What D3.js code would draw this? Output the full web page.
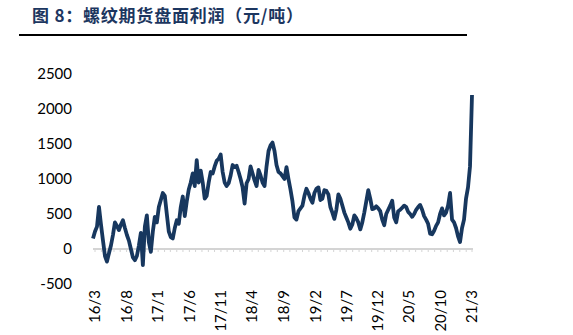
<!DOCTYPE html>
<html><head><meta charset="utf-8">
<script src="https://cdn.jsdelivr.net/npm/d3@7"></script>
<style>body{margin:0;background:#fff}svg{display:block}</style>
</head><body>
<svg id="c" width="573" height="335"></svg>
<script>
const title = "图 8：螺纹期货盘面利润（元/吨）";
const yTicks = [-500, 0, 500, 1000, 1500, 2000, 2500];
const xLabels = ["16/3","16/8","17/1","17/6","17/11","18/4","18/9","19/2","19/7","19/12","20/5","20/10","21/3"];
const startDate = new Date(2016, 2, 1);
const endDate = new Date(2021, 2, 1);
// profit series (元/吨), roughly every ten days from early 2016/3 to 2021/3
const profit = [
150,250,320,600,350,120,-100,-180,-60,50,
200,380,330,270,350,410,300,200,120,0,
-120,-160,-100,50,230,-230,320,480,100,-40,
250,460,380,600,700,800,760,500,250,170,
150,300,410,360,600,750,470,680,850,950,
1080,900,1270,950,1120,950,720,760,950,1100,
1080,1180,1260,1290,1350,1100,950,900,940,1050,
1200,1170,1190,1100,1000,880,650,940,1000,1180,
1080,980,900,1130,1050,950,900,1180,1400,1480,
1520,1400,1200,1100,1080,1040,1000,1170,1000,850,
680,450,420,540,580,620,760,860,800,720,
660,800,860,880,700,720,840,830,780,600,
520,430,560,780,720,620,520,450,380,290,
350,480,440,380,280,380,520,680,840,720,
570,580,610,580,540,420,340,500,560,620,
690,450,380,540,560,590,620,600,530,500,
460,500,560,600,630,560,470,420,360,220,
210,260,330,380,500,580,480,520,620,800,
420,380,300,180,100,300,420,720,880,1180,
2200
];

const svg = d3.select("#c");
const font = "Lato, 'Open Sans', sans-serif";

// title
svg.append("text").attr("x", 32).attr("y", 22)
  .attr("font-family", "'Noto Sans CJK SC', sans-serif").attr("font-weight", "bold")
  .attr("font-size", 17).attr("fill", "#1c3660")
  .attr("textLength", 271).attr("lengthAdjust", "spacing")
  .text(title);
svg.append("line").attr("x1", 19).attr("x2", 467).attr("y1", 35).attr("y2", 35)
  .attr("stroke", "#000").attr("stroke-width", 2);

const y = d3.scaleLinear().domain([-500, 2500]).range([284, 74]);
const xt = d3.scaleTime().domain([startDate, endDate]).range([95, 472]);
const xi = d3.scaleLinear().domain([0, profit.length - 1]).range([93, 472]);

// y labels
svg.append("g").selectAll("text").data(yTicks).join("text")
  .attr("x", 72).attr("y", d => y(d)).attr("dy", "0.35em")
  .attr("text-anchor", "end").attr("font-family", font).attr("font-size", 15)
  .attr("fill", "#000").text(d => d);

// x axis line + monthly ticks
const months = d3.timeMonth.range(startDate, d3.timeMonth.offset(endDate, 1));
svg.append("line").attr("x1", 93).attr("x2", 473).attr("y1", y(0)).attr("y2", y(0))
  .attr("stroke", "#d4d4d4").attr("stroke-width", 2);
svg.append("g").selectAll("line").data(months).join("line")
  .attr("x1", d => xt(d)).attr("x2", d => xt(d))
  .attr("y1", y(0)).attr("y2", y(0) + 3)
  .attr("stroke", "#d4d4d4").attr("stroke-width", 1);

// x labels every 5 months
const labelDates = xLabels.map((s, i) => d3.timeMonth.offset(startDate, i * 5));
svg.append("g").selectAll("text").data(xLabels).join("text")
  .attr("transform", (d, i) => `translate(${xt(labelDates[i])},290) rotate(-90)`)
  .attr("text-anchor", "end").attr("dy", "0.35em")
  .attr("font-family", font).attr("font-size", 15).attr("fill", "#000")
  .text(d => d);

// line
const line = d3.line().x((d, i) => xi(i)).y(d => y(d));
svg.append("path").datum(profit).attr("d", line)
  .attr("fill", "none").attr("stroke", "#17375e").attr("stroke-width", 3.8)
  .attr("stroke-linejoin", "round");
</script>
</body></html>
